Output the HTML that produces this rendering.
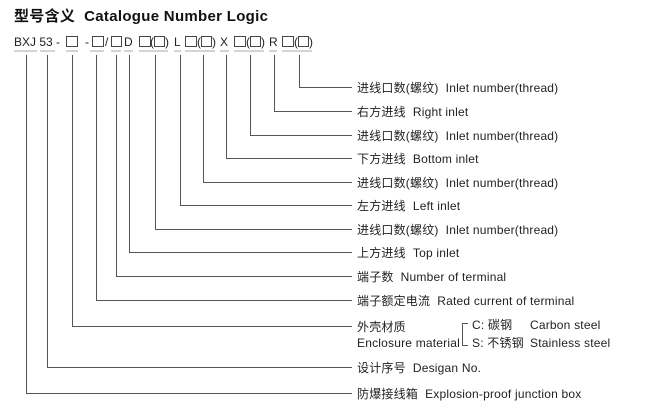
<!DOCTYPE html>
<html><head><meta charset="utf-8"><style>
html,body{margin:0;padding:0;background:#fff;}
svg{display:block;font-family:"Liberation Sans","Noto Sans CJK SC",sans-serif;}
</style></head><body>
<svg width="652" height="416" viewBox="0 0 652 416" xmlns="http://www.w3.org/2000/svg">
<text x="14" y="21" font-size="15" font-weight="bold" fill="#111" letter-spacing="0.3">型号含义&#160;&#160;Catalogue Number Logic</text>
<g font-size="12" fill="#222">
<text x="14" y="46">BXJ 53 -</text>
<text x="85" y="46">-</text>
<text x="105" y="46">/</text>
<text x="124" y="46">D</text>
<text x="150" y="46">(</text><text x="165" y="46">)</text>
<text x="174" y="46">L</text>
<text x="197" y="46">(</text><text x="212" y="46">)</text>
<text x="220" y="46">X</text>
<text x="246" y="46">(</text><text x="261" y="46">)</text>
<text x="269" y="46">R</text>
<text x="294" y="46">(</text><text x="309" y="46">)</text>
</g>
<g fill="none" stroke="#333" stroke-width="0.9">
<rect x="66.5" y="36.5" width="11" height="10"/>
<rect x="92.5" y="36.5" width="11" height="10"/>
<rect x="111.5" y="36.5" width="10" height="10"/>
<rect x="139.5" y="36.5" width="11" height="10"/>
<rect x="154.5" y="36.5" width="10" height="10"/>
<rect x="185.5" y="36.5" width="11" height="10"/>
<rect x="201.5" y="36.5" width="10" height="10"/>
<rect x="234.5" y="36.5" width="11" height="10"/>
<rect x="250.5" y="36.5" width="10" height="10"/>
<rect x="282.5" y="36.5" width="11" height="10"/>
<rect x="298.5" y="36.5" width="10" height="10"/>
</g>
<g stroke="#aaa" stroke-width="1">
<line x1="14" y1="51" x2="37" y2="51"/><line x1="40" y1="51" x2="55" y2="51"/>
<line x1="66" y1="51" x2="78" y2="51"/><line x1="90" y1="51" x2="104" y2="51"/>
<line x1="111" y1="51" x2="121" y2="51"/><line x1="124" y1="51" x2="133" y2="51"/>
<line x1="139" y1="51" x2="168" y2="51"/><line x1="174" y1="51" x2="181" y2="51"/>
<line x1="185" y1="51" x2="215" y2="51"/><line x1="220" y1="51" x2="229" y2="51"/>
<line x1="234" y1="51" x2="264" y2="51"/><line x1="269" y1="51" x2="277" y2="51"/>
<line x1="282" y1="51" x2="312" y2="51"/>
</g>
<g fill="none" stroke="#555" stroke-width="1">
<polyline points="299.5,55 299.5,87.5 352,87.5"/>
<polyline points="274.5,55 274.5,111.5 352,111.5"/>
<polyline points="250.5,55 250.5,135.5 352,135.5"/>
<polyline points="226.5,55 226.5,158.5 352,158.5"/>
<polyline points="203.5,55 203.5,182.5 352,182.5"/>
<polyline points="180.5,55 180.5,205.5 352,205.5"/>
<polyline points="155.5,55 155.5,229.5 352,229.5"/>
<polyline points="129.5,55 129.5,252.5 352,252.5"/>
<polyline points="116.5,55 116.5,276.5 352,276.5"/>
<polyline points="96.5,55 96.5,300.5 352,300.5"/>
<polyline points="72.5,55 72.5,326.5 352,326.5"/>
<polyline points="47.5,55 47.5,367.5 352,367.5"/>
<polyline points="26.5,55 26.5,393.5 352,393.5"/>
<polyline points="468,323.5 462.5,323.5 462.5,345.5 468,345.5"/>
</g>
<g font-size="12" fill="#222" letter-spacing="0.2">
<text x="357" y="92">进线口数(螺纹)&#160;&#160;Inlet number(thread)</text>
<text x="357" y="116">右方进线&#160;&#160;Right inlet</text>
<text x="357" y="140">进线口数(螺纹)&#160;&#160;Inlet number(thread)</text>
<text x="357" y="163">下方进线&#160;&#160;Bottom inlet</text>
<text x="357" y="187">进线口数(螺纹)&#160;&#160;Inlet number(thread)</text>
<text x="357" y="210">左方进线&#160;&#160;Left inlet</text>
<text x="357" y="234">进线口数(螺纹)&#160;&#160;Inlet number(thread)</text>
<text x="357" y="257">上方进线&#160;&#160;Top inlet</text>
<text x="357" y="281">端子数&#160;&#160;Number of terminal</text>
<text x="357" y="305">端子额定电流&#160;&#160;Rated current of terminal</text>
<text x="357" y="331">外壳材质</text>
<text x="357" y="347">Enclosure material</text>
<text x="472" y="329">C: 碳钢</text>
<text x="530" y="329">Carbon steel</text>
<text x="472" y="347">S: 不锈钢</text>
<text x="530" y="347">Stainless steel</text>
<text x="357" y="372">设计序号&#160;&#160;Desigan No.</text>
<text x="357" y="398">防爆接线箱&#160;&#160;Explosion-proof junction box</text>
</g>
</svg>
</body></html>
